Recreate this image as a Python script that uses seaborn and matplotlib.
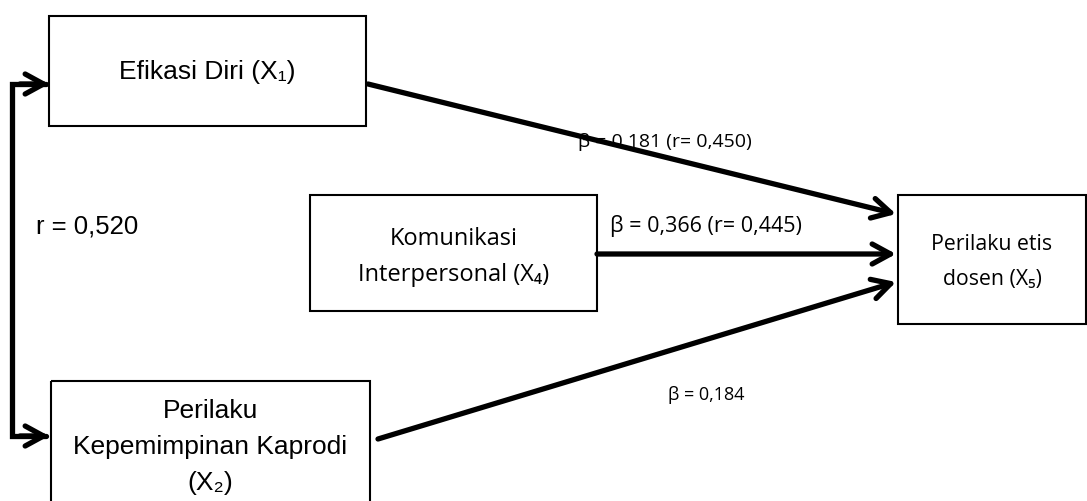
import matplotlib
matplotlib.use("Agg")
import matplotlib.pyplot as plt
import matplotlib.patches as patches
import seaborn as sns

sns.set_theme(style="white")
plt.rcParams["font.family"] = ["Liberation Sans", "DejaVu Sans"]
plt.rcParams["text.color"] = "black"

# node labels
exog_labels = ["Efikasi Diri (X₁)", "Komunikasi\nInterpersonal (X₄)", "Perilaku\nKepemimpinan Kaprodi\n(X₂)"]
endog_label = "Perilaku etis\ndosen (X₅)"

# path coefficients
betas = ["0,181", "0,366", "0,184"]
r_paths = ["0,450", "0,445", None]
r_x1_x2 = "0,520"

# layout in pixel coordinates (x0, y0, x1, y1)
box_pos = [(49, 17, 366, 127), (310, 196, 597, 312), (51, 382, 370, 510)]
box_font = [(["Liberation Sans", "DejaVu Sans"], 19, 1.2),
            (["Open Sans", "DejaVu Sans"], 17, 1.65),
            (["Liberation Sans", "DejaVu Sans"], 19, 1.62)]
text_y = [72, 257, 447]
target_box = (898, 196, 1086, 325)
arrow_start = [(368, 85), (597, 255), (378, 440)]
arrow_end = [(896, 215), (896, 255), (896, 283)]
label_pos = [(578, 142), (610, 226), (668, 395)]
label_size = [14, 15.5, 13]

fig = plt.figure(figsize=(10.87, 5.02), dpi=100)
ax = fig.add_axes([0, 0, 1, 1])
ax.set_xlim(0, 1087)
ax.set_ylim(502, 0)
ax.axis("off")


def draw_box(b, text, family, fs, ls, ty):
    ax.add_patch(patches.Rectangle((b[0], b[1]), b[2] - b[0], b[3] - b[1],
                                   fill=False, edgecolor="black", lw=1.5))
    ax.text((b[0] + b[2]) / 2, ty, text, ha="center", va="center",
            fontsize=fs, linespacing=ls, family=family, color="black")


for b, lab, (fam, fs, ls), ty in zip(box_pos, exog_labels, box_font, text_y):
    draw_box(b, lab, fam, fs, ls, ty)
draw_box(target_box, endog_label, ["Open Sans", "DejaVu Sans"], 15.3, 1.85, 262)

# paths to endogenous variable
for s, e in zip(arrow_start, arrow_end):
    ax.annotate("", xy=e, xytext=s,
                arrowprops=dict(arrowstyle="->,head_length=1.1,head_width=0.6",
                                lw=3.8, color="black", shrinkA=0, shrinkB=0))

for (x, y), b, r, fs in zip(label_pos, betas, r_paths, label_size):
    txt = f"β = {b}" if r is None else f"β = {b} (r= {r})"
    ax.text(x, y, txt, ha="left", va="center", fontsize=fs, color="black",
            family=["Open Sans", "DejaVu Sans"])

# correlation between X1 and X2
ax.plot([46, 12, 12, 46], [85, 85, 437, 437], color="black", lw=3.8,
        solid_joinstyle="miter")
for y in (85, 437):
    ax.annotate("", xy=(49, y), xytext=(20, y),
                arrowprops=dict(arrowstyle="->,head_length=1.1,head_width=0.6",
                                lw=3.8, color="black", shrinkA=0, shrinkB=0))
ax.text(36, 227, f"r = {r_x1_x2}", ha="left", va="center", fontsize=18.5, color="black")

fig.savefig("out.png", dpi=100)
